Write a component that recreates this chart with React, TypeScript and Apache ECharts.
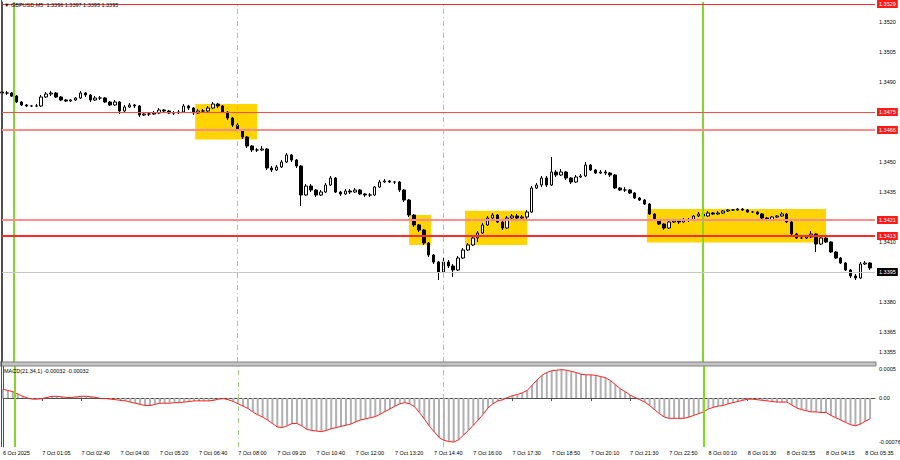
import React, { useEffect, useRef } from "react";
import * as echarts from "echarts";

// Time-axis tick labels (one every 8 bars)
const timeLabels = [
  "6 Oct 2025", "7 Oct 01:05", "7 Oct 02:40", "7 Oct 04:00", "7 Oct 05:20", "7 Oct 06:40",
  "7 Oct 08:00", "7 Oct 09:20", "7 Oct 10:40", "7 Oct 12:00", "7 Oct 13:20", "7 Oct 14:40",
  "7 Oct 16:00", "7 Oct 17:30", "7 Oct 18:50", "7 Oct 20:10", "7 Oct 21:30", "7 Oct 22:50",
  "8 Oct 00:10", "8 Oct 01:30", "8 Oct 02:55", "8 Oct 04:15", "8 Oct 05:35",
];

// Candles: [open, close, low, high]
const candlesAsia = [
  [1.3485,1.34845,1.34835,1.3486],[1.34845,1.34845,1.34835,1.34855],[1.34845,1.3483,1.34825,1.3485],
  [1.3483,1.348,1.34795,1.34835],[1.348,1.34785,1.3478,1.34805],[1.34785,1.3478,1.34775,1.3479],
  [1.3478,1.3478,1.34775,1.34785],[1.3478,1.3478,1.34775,1.3479],[1.3478,1.34825,1.34775,1.34835],
  [1.34825,1.3484,1.3482,1.3485],[1.3484,1.34845,1.3483,1.34855],[1.34845,1.34825,1.3482,1.3485],
  [1.34825,1.3481,1.34805,1.3483],[1.3481,1.34805,1.348,1.34815],[1.34805,1.3481,1.348,1.34815],
  [1.3481,1.3482,1.34805,1.34825],[1.3482,1.34845,1.34815,1.34855],[1.34845,1.34835,1.34825,1.3485],
  [1.34835,1.3481,1.348,1.3484],[1.3481,1.3482,1.34805,1.3483],[1.3482,1.3482,1.3481,1.3483],
  [1.3482,1.348,1.34795,1.34825],[1.348,1.34785,1.3478,1.34805],[1.34785,1.348,1.3478,1.3481],
  [1.348,1.34755,1.3474,1.34805],[1.34755,1.34775,1.3475,1.34785],[1.34775,1.34785,1.3477,1.34795],
  [1.34785,1.3478,1.3477,1.3479],[1.3478,1.34735,1.34725,1.34785],[1.34735,1.3474,1.3473,1.3475],
  [1.3474,1.3474,1.3473,1.3475],[1.3474,1.34745,1.34735,1.34755],[1.34745,1.3476,1.3474,1.3477],
  [1.3476,1.34755,1.34745,1.34765],[1.34755,1.34745,1.3474,1.3476],[1.34745,1.34745,1.34735,1.34755],
  [1.34745,1.3475,1.3474,1.3476],[1.3475,1.3478,1.34745,1.3479],[1.3478,1.3477,1.3476,1.34785],
  [1.3477,1.34745,1.34735,1.34775],[1.34745,1.34755,1.3474,1.34765],[1.34755,1.34755,1.34745,1.34765],
  [1.34755,1.3477,1.3475,1.3478],[1.3477,1.3479,1.34765,1.348],[1.3479,1.3478,1.3477,1.34795],
];
const candlesLondon = [
  [1.3478,1.3475,1.34745,1.34785],[1.3475,1.3472,1.3471,1.34755],[1.3472,1.34685,1.34675,1.34725],
  [1.34685,1.3466,1.3465,1.34695],[1.3466,1.34625,1.34615,1.34665],[1.34625,1.3458,1.3457,1.3463],
  [1.3458,1.3456,1.3455,1.34585],[1.3456,1.3456,1.3455,1.3457],[1.3456,1.34565,1.34555,1.3458],
  [1.34565,1.3447,1.3446,1.3457],[1.3447,1.3446,1.3445,1.3448],[1.3446,1.34475,1.34455,1.34485],
  [1.34475,1.345,1.3447,1.3451],[1.345,1.34535,1.34495,1.34545],[1.34535,1.3451,1.345,1.3454],
  [1.3451,1.3448,1.3447,1.34515],[1.3448,1.34335,1.3428,1.34485],[1.34335,1.3438,1.3433,1.3439],
  [1.3438,1.3436,1.3435,1.3439],[1.3436,1.34335,1.34325,1.34365],[1.34335,1.3435,1.3433,1.3436],
  [1.3435,1.34385,1.34345,1.34395],[1.34385,1.3442,1.3438,1.3443],[1.3442,1.3435,1.34345,1.34425],
  [1.3435,1.3434,1.3433,1.34355],[1.3434,1.34355,1.34335,1.34365],[1.34355,1.3435,1.3434,1.34365],
  [1.3435,1.3436,1.34345,1.3437],[1.3436,1.3434,1.34335,1.34365],[1.3434,1.34335,1.34325,1.34345],
  [1.34335,1.34335,1.34325,1.34345],[1.34335,1.34375,1.3433,1.3438],[1.34375,1.344,1.3437,1.3441],
  [1.344,1.34405,1.34395,1.34415],[1.34405,1.344,1.34395,1.3441],[1.344,1.344,1.3439,1.34405],
  [1.344,1.3436,1.3435,1.34405],[1.3436,1.3431,1.343,1.34365],[1.3431,1.34235,1.34225,1.34315],
  [1.34235,1.34185,1.34175,1.3424],[1.34185,1.3416,1.3415,1.3419],[1.3416,1.34095,1.34085,1.34165],
  [1.34095,1.34035,1.34025,1.341],[1.34035,1.34,1.3399,1.3404],[1.34,1.3395,1.3391,1.34005],
];
const candlesNewYork = [
  [1.3395,1.34,1.33945,1.3402],[1.34,1.3398,1.3397,1.3401],[1.3398,1.3396,1.33925,1.3399],
  [1.3396,1.3402,1.33955,1.3403],[1.3402,1.3406,1.34015,1.3407],[1.3406,1.34085,1.34055,1.34095],
  [1.34085,1.3412,1.3408,1.3413],[1.3412,1.34145,1.341,1.34155],[1.34145,1.34185,1.3414,1.34195],
  [1.34185,1.3422,1.3418,1.3423],[1.3422,1.34235,1.34215,1.34245],[1.34235,1.342,1.34195,1.3424],
  [1.342,1.3417,1.3416,1.34205],[1.3417,1.3422,1.34165,1.3423],[1.3422,1.3423,1.3421,1.3424],
  [1.3423,1.3422,1.3421,1.3424],[1.3422,1.34225,1.34215,1.34235],[1.34225,1.3425,1.34215,1.3426],
  [1.3425,1.3437,1.34245,1.3438],[1.3437,1.34385,1.34365,1.34395],[1.34385,1.3442,1.34375,1.3443],
  [1.3442,1.34385,1.34375,1.3443],[1.34385,1.3445,1.3438,1.34525],[1.3445,1.34435,1.34425,1.3446],
  [1.34435,1.3445,1.3443,1.34465],[1.3445,1.3442,1.3441,1.34455],[1.3442,1.344,1.3439,1.34425],
  [1.344,1.34425,1.34395,1.34435],[1.34425,1.3443,1.3442,1.3444],[1.3443,1.34485,1.34425,1.345],
  [1.34485,1.3446,1.34455,1.3449],[1.3446,1.34445,1.3444,1.34465],[1.34445,1.3445,1.3444,1.3446],
  [1.3445,1.34445,1.34435,1.3446],[1.34445,1.34435,1.34425,1.3445],[1.34435,1.3437,1.34365,1.3444],
  [1.3437,1.3436,1.34355,1.34375],[1.3436,1.3436,1.3435,1.34375],[1.3436,1.34345,1.3434,1.34365],
  [1.34345,1.3432,1.34315,1.3435],[1.3432,1.3431,1.34305,1.34325],[1.3431,1.3429,1.34285,1.34315],
  [1.3429,1.3424,1.34235,1.34295],[1.3424,1.3421,1.34205,1.34245],[1.3421,1.3419,1.34185,1.34215],
];
const candlesLate = [
  [1.3419,1.3417,1.3416,1.34195],[1.3417,1.342,1.34165,1.34205],[1.342,1.34205,1.34195,1.34215],
  [1.34205,1.342,1.3419,1.3421],[1.342,1.3421,1.34195,1.3422],[1.3421,1.3421,1.342,1.3422],
  [1.3421,1.3423,1.34205,1.34235],[1.3423,1.3424,1.34225,1.3425],[1.3424,1.3423,1.34205,1.3426],
  [1.3423,1.34245,1.34225,1.34255],[1.34245,1.3424,1.34235,1.3425],[1.3424,1.34245,1.34235,1.34255],
  [1.34245,1.34255,1.3424,1.3426],[1.34255,1.3426,1.3425,1.34265],[1.3426,1.3426,1.34255,1.34265],
  [1.3426,1.34265,1.34255,1.3427],[1.34265,1.3426,1.34255,1.3427],[1.3426,1.3425,1.34245,1.34265],
  [1.3425,1.3425,1.34245,1.34255],[1.3425,1.3424,1.34235,1.34255],[1.3424,1.3422,1.34215,1.34245],
  [1.3422,1.3421,1.34205,1.34225],[1.3421,1.34225,1.34205,1.3423],[1.34225,1.3423,1.3422,1.34235],
  [1.3423,1.3424,1.34225,1.3425],[1.3424,1.342,1.34195,1.34245],[1.342,1.3414,1.34135,1.34205],
  [1.3414,1.3412,1.34115,1.34145],[1.3412,1.3412,1.34115,1.34125],[1.3412,1.34125,1.34115,1.3413],
  [1.34125,1.3414,1.3412,1.34155],[1.3414,1.3409,1.3405,1.34145],[1.3409,1.3412,1.34085,1.3413],
  [1.3412,1.341,1.34095,1.34125],[1.341,1.3405,1.34045,1.34105],[1.3405,1.3402,1.34015,1.34055],
  [1.3402,1.33995,1.3399,1.34025],[1.33995,1.3396,1.33955,1.34],[1.3396,1.3393,1.3392,1.33965],
  [1.3393,1.3392,1.3391,1.3394],[1.3392,1.3399,1.33915,1.34],[1.3399,1.33995,1.33985,1.34005],
  [1.33995,1.3397,1.3396,1.34],
];

// MACD(21,34,1) values per bar
const macdFirstDay = [
  0.00015,0.00013,0.00011,0.00007,0.00003,0,-0.00002,-0.00002,-0.00001,0.00001,
  0.00003,0.00003,0.00002,0.00001,0.00001,0.00002,0.00003,0.00003,0.00002,0.00001,
  -0.00001,-0.00001,-0.00002,-0.00003,-0.00004,-0.00005,-0.00007,-0.00009,-0.00011,-0.00013,
  -0.00013,-0.00011,-0.00009,-0.00009,-0.00009,-0.00008,-0.00008,-0.00007,-0.00006,-0.00005,
  -0.00005,-0.00005,-0.00005,-0.00004,-0.00002,-0.00001,-0.00003,-0.00006,-0.0001,-0.00014,
  -0.00018,-0.00024,-0.00029,-0.00033,-0.00038,-0.00044,-0.0005,-0.00051,-0.00048,-0.00044,
  -0.00044,-0.00048,-0.00054,-0.00056,-0.00057,-0.00058,-0.00056,-0.00053,-0.00051,-0.00049,
  -0.00047,-0.00045,-0.00041,-0.00038,-0.00036,-0.00034,-0.00032,-0.00028,-0.00023,-0.00019,
  -0.00014,-0.0001,-0.00008,-0.0001,-0.00015,-0.00025,-0.00036,-0.00048,-0.00058,
];
const macdSecondDay = [
  -0.00068,-0.00073,-0.00075,-0.00076,-0.00072,-0.00064,-0.00056,-0.00047,-0.00038,-0.00028,
  -0.00017,-0.0001,-0.00005,-0.00003,0.00001,0.00004,0.00006,0.00009,0.00013,0.00022,
  0.00031,0.00039,0.00044,0.00047,0.00048,0.00049,0.00048,0.00046,0.00044,0.00041,
  0.0004,0.0004,0.00039,0.00037,0.00035,0.0003,0.00023,0.00016,0.00011,0.00005,
  0.00001,-0.00003,-0.00007,-0.00013,-0.0002,-0.00027,-0.00033,-0.00035,-0.00035,-0.00035,
  -0.00035,-0.00033,-0.0003,-0.00027,-0.00024,-0.00019,-0.00016,-0.00014,-0.00013,-0.0001,
  -0.00008,-0.00006,-0.00004,-0.00002,-0.00002,-0.00003,-0.00004,-0.00005,-0.00006,-0.00007,
  -0.00007,-0.00007,-0.00012,-0.00017,-0.0002,-0.00022,-0.00024,-0.00024,-0.00025,-0.00025,
  -0.0003,-0.00034,-0.00038,-0.00042,-0.00046,-0.00048,-0.00045,-0.0004,-0.00036,
];

// Price axis labels shown
const priceTickLabels = ["1.3520", "1.3505", "1.3490", "1.3450", "1.3435", "1.3410", "1.3380", "1.3365", "1.3355"];
const macdTickLabels = [
  { value: 0.0005, text: "0.0005" },
  { value: 0, text: "0.00" },
  { value: -0.00076, text: "-0.00076" },
];

// Horizontal levels
const levelValues = [1.3529, 1.3475, 1.3466, 1.3421, 1.3413];
const currentPrice = 1.3395;

// Zones: bar-index span and price span
const zoneStart = [39.4, 83.0, 94.4, 131.5];
const zoneEnd = [52.0, 87.5, 107.1, 168.0];
const zoneTop = [1.3479, 1.34235, 1.34256, 1.34265];
const zoneBottom = [1.34613, 1.34085, 1.34085, 1.34097];

// Vertical markers (bar index)
const sessionLines = [2.45, 142.95];
const dottedLines = [47.92, 89.93];

const titleText = "\u25BC GBPUSD,M5  1.3396 1.3397 1.3395 1.3395";
const macdTitle = "MACD(21,34,1) -0.00032 -0.00032";

export default function App() {
  const ref = useRef<HTMLDivElement>(null);
  useEffect(() => {
    if (!ref.current) return;
    const chart = echarts.init(ref.current, undefined, { renderer: "svg" });
    const candles = [...candlesAsia, ...candlesLondon, ...candlesNewYork, ...candlesLate];
    const macd = [...macdFirstDay, ...macdSecondDay];
    const N = candles.length;
    const cats = Array.from({ length: N + 1 }, (_, i) => String(i));
    const font = "Liberation Sans";
    const fs = 5.5;
    const levelStyles = [
      { color: "#ff2a2a", width: 1 },
      { color: "#ff4a4a", width: 1 },
      { color: "#ff8c8c", width: 2 },
      { color: "#ff8c8c", width: 2 },
      { color: "#ff2a2a", width: 2 },
    ];
    const vlines = () => [
      ...sessionLines.map((x) => ({ xAxis: x, lineStyle: { color: "#7ddc1f", width: 2, type: "solid" } })),
      ...dottedLines.map((x) => ({ xAxis: x, lineStyle: { color: "#9fd27a", width: 1, type: [5, 3, 1, 3] } })),
    ];

    const option: any = {
      animation: false,
      backgroundColor: "#ffffff",
      textStyle: { fontFamily: font },
      grid: [
        { left: 2, right: 25, top: 2, height: 360 },
        { left: 2, right: 25, top: 366, height: 81 },
      ],
      xAxis: [
        { type: "category", gridIndex: 0, data: cats, boundaryGap: false, show: false },
        {
          type: "category", gridIndex: 1, data: cats, boundaryGap: false,
          axisLine: { show: true, lineStyle: { color: "#505050" } },
          axisTick: { show: true, interval: (i: number) => i % 8 === 0, length: 3, lineStyle: { color: "#505050" } },
          axisLabel: {
            interval: (i: number) => i % 8 === 0,
            formatter: (_v: string, i: number) => (i % 8 === 0 && timeLabels[i / 8]) ? timeLabels[i / 8] : "",
            align: "left", fontSize: fs, color: "#000", margin: 3, fontFamily: font,
          },
          splitLine: { show: false },
        },
        { type: "value", gridIndex: 0, min: 0, max: N, show: false },
        { type: "value", gridIndex: 1, min: 0, max: N, show: false },
      ],
      yAxis: [
        {
          type: "value", gridIndex: 0, position: "right", min: 1.335, max: 1.353, interval: 0.0005,
          axisLine: { show: true, lineStyle: { color: "#505050" } },
          axisTick: { show: false }, splitLine: { show: false },
          axisLabel: {
            formatter: (v: number) => { const s = v.toFixed(4); return priceTickLabels.includes(s) ? s : ""; },
            fontSize: fs, color: "#000", margin: 4, fontFamily: font,
          },
        },
        {
          type: "value", gridIndex: 1, position: "right", min: -0.000845, max: 0.000552,
          axisLine: { show: true, lineStyle: { color: "#505050" } },
          axisTick: { show: false }, splitLine: { show: false }, axisLabel: { show: false },
        },
      ],
      series: [
        {
          type: "line", xAxisIndex: 2, yAxisIndex: 0, data: [], z: 1,
          markArea: {
            silent: true,
            itemStyle: { color: "#ffd400", opacity: 1 },
            data: zoneStart.map((s, i) => [
              { xAxis: s, yAxis: zoneTop[i] },
              { xAxis: zoneEnd[i], yAxis: zoneBottom[i] },
            ]),
          },
        },
        {
          type: "line", xAxisIndex: 2, yAxisIndex: 0, data: [], z: 2,
          markLine: { silent: true, symbol: "none", precision: 6, label: { show: false }, data: vlines() },
        },
        {
          type: "candlestick", xAxisIndex: 0, yAxisIndex: 0, data: candles, barWidth: 3, z: 3,
          itemStyle: { color: "#ffffff", color0: "#000000", borderColor: "#000000", borderColor0: "#000000", borderWidth: 1 },
        },
        {
          type: "line", xAxisIndex: 2, yAxisIndex: 0, data: [], z: 4,
          markLine: {
            silent: true, symbol: "none", precision: 6,
            data: [
              ...levelValues.map((v, i) => ({
                yAxis: v,
                lineStyle: { color: levelStyles[i].color, width: levelStyles[i].width, type: "solid" },
                label: {
                  show: true, position: "end", distance: 2, formatter: v.toFixed(4),
                  backgroundColor: "#ff1a1a", color: "#ffffff", fontSize: fs, padding: [1, 2, 1, 2], fontFamily: font,
                },
              })),
              {
                yAxis: currentPrice,
                lineStyle: { color: "#c8c8c8", width: 1, type: "solid" },
                label: {
                  show: true, position: "end", distance: 2, formatter: currentPrice.toFixed(4),
                  backgroundColor: "#000000", color: "#ffffff", fontSize: fs, padding: [1, 2, 1, 2], fontFamily: font,
                },
              },
            ],
          },
        },
        {
          type: "bar", xAxisIndex: 1, yAxisIndex: 1, data: macd, barWidth: 2,
          itemStyle: { color: "#b0b0b0" }, z: 2,
        },
        {
          type: "line", xAxisIndex: 1, yAxisIndex: 1, data: macd, symbol: "none", z: 3,
          lineStyle: { color: "#ff2020", width: 1 },
        },
        {
          type: "line", xAxisIndex: 3, yAxisIndex: 1, data: [], z: 4,
          markLine: {
            silent: true, symbol: "none", precision: 8,
            data: [
              ...vlines(),
              ...macdTickLabels.map((t) => ({
                yAxis: t.value,
                lineStyle: { color: "rgba(0,0,0,0)", width: 0 },
                label: { show: true, position: "end", distance: 4, formatter: t.text, color: "#000000", fontSize: fs, fontFamily: font },
              })),
            ],
            label: { show: false },
          },
        },
      ],
      graphic: [
        { type: "rect", shape: { x: 0, y: 362, width: 876, height: 4 }, style: { fill: "#c4c4c4", stroke: "#808080", lineWidth: 1 }, z: 10 },
        { type: "line", shape: { x1: 1.5, y1: 0, x2: 1.5, y2: 447 }, style: { stroke: "#505050", lineWidth: 1 }, z: 10 },
        { type: "text", left: 4, top: 2, style: { text: titleText, fontSize: fs, fill: "#000", fontFamily: font }, z: 10 },
        { type: "text", left: 4, top: 368, style: { text: macdTitle, fontSize: fs, fill: "#000", fontFamily: font }, z: 10 },
      ],
    };
    chart.setOption(option);
    return () => chart.dispose();
  }, []);
  return <div ref={ref} style={{ position: "absolute", left: 0, top: 0, width: 900, height: 460 }} />;
}
